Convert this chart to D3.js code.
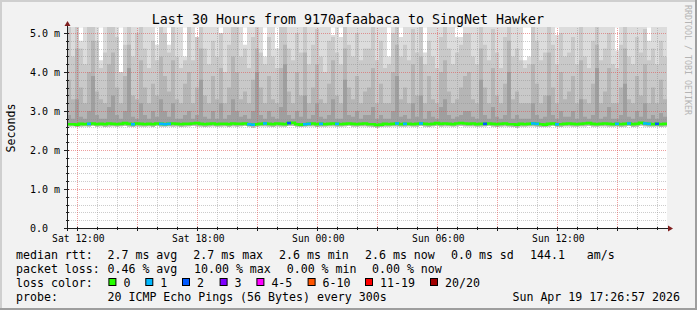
<!DOCTYPE html>
<html>
<head>
<meta charset="utf-8">
<script src="https://cdn.jsdelivr.net/npm/d3@7"></script>
<style>
  body { margin: 0; background: #f2f2f2; }
  svg { display: block; }
  text { font-family: "DejaVu Sans Mono", monospace; fill: #000; }
</style>
</head>
<body>
<div id="chart-area"></div>
<script>
// Data: 150 columns of 12 minutes each (30 hours), values in ms
const smokeTop = [
  5.2,5.2,5.2,4.8,5.2,5.2,5.2,5.2,4.3,5.2,5.2,5.2,5.2,4.0,5.2,5.2,5.2,5.2,5.2,5.2,5.2,5.2,4.7,5.2,5.2,
  4.7,5.2,5.2,5.2,4.4,5.2,5.2,4.9,5.2,5.2,5.2,5.2,5.2,4.8,5.2,5.2,5.2,5.2,5.2,4.7,5.2,5.2,5.2,5.2,4.4,
  5.2,5.2,4.6,5.2,5.2,5.2,5.2,5.2,5.2,5.2,5.2,5.2,5.2,5.2,5.2,5.2,4.95,5.2,4.9,5.2,5.2,5.2,5.2,5.2,5.2,
  5.2,5.2,5.2,5.2,5.2,4.4,5.2,5.2,4.9,5.2,5.2,5.2,5.2,5.2,4.5,5.2,5.2,5.2,5.2,5.2,5.2,5.2,4.9,4.9,5.2,
  5.2,5.2,5.2,5.2,5.2,5.2,5.2,5.2,5.2,5.2,5.2,5.2,5.2,5.2,4.3,4.4,5.2,5.2,5.2,5.2,5.2,5.2,4.95,5.2,5.2,
  5.2,5.2,5.2,5.2,5.2,5.2,5.2,5.2,5.2,5.2,5.2,5.2,4.55,5.2,5.2,5.2,5.2,5.2,5.2,5.2,4.8,5.2,5.2,5.2,5.2
];
const smokeHigh = [
  5.2,4.4,5.2,4.6,4.2,5.2,5.2,4.8,4.1,4.5,5.2,5.2,4.9,4.0,4.7,5.2,4.4,5.0,5.2,4.6,4.1,4.8,4.3,5.2,5.0,
  4.5,5.2,4.4,4.1,4.3,5.2,4.3,4.9,5.2,4.6,4.2,4.8,4.4,5.0,4.0,4.7,5.2,5.2,4.4,4.6,4.1,4.9,5.2,4.5,4.2,
  4.9,4.4,4.1,5.2,5.2,4.6,4.3,5.0,4.5,5.2,4.2,4.7,5.1,4.4,4.0,4.8,4.9,4.5,4.2,5.2,4.7,4.4,5.0,4.3,4.6,
  4.6,5.2,4.3,4.8,4.1,4.2,5.0,5.2,4.4,4.7,4.3,5.1,4.5,5.2,4.2,4.8,4.4,4.1,4.9,5.2,4.6,4.2,4.5,4.7,5.0,
  5.0,4.4,4.2,5.2,4.7,4.3,5.1,4.5,4.1,4.9,5.2,4.4,4.6,4.3,4.1,4.2,5.2,4.8,4.3,4.5,5.2,4.7,4.2,5.0,4.4,
  4.5,4.9,4.2,5.2,4.4,4.1,4.8,5.2,4.3,4.6,5.0,4.2,4.1,4.7,5.2,4.4,4.2,4.9,4.5,5.1,4.3,4.6,4.2,4.8,4.4
];
const smokeMid = [
  3.8,3.3,4.6,3.6,3.2,4.0,4.8,3.5,3.3,3.2,4.2,4.5,3.6,3.2,3.9,4.7,3.4,3.3,4.3,3.6,3.2,3.7,3.4,4.4,3.9,
  3.5,4.3,3.3,3.2,3.7,4.0,3.2,3.6,4.6,3.4,3.2,3.9,3.3,4.1,3.2,3.6,4.4,4.0,3.3,3.5,3.2,3.8,4.6,3.6,3.2,
  3.9,3.3,3.2,4.1,4.7,3.5,3.2,4.0,3.4,4.5,3.2,3.6,4.2,3.3,3.2,3.7,4.3,3.4,3.2,4.6,3.6,3.3,3.9,3.2,3.5,
  3.6,4.1,3.2,3.7,3.2,3.2,4.0,4.7,3.3,3.6,3.2,4.2,3.4,4.4,3.2,3.9,3.3,3.2,4.0,4.3,3.5,3.2,3.3,3.6,3.9,
  4.0,3.3,3.2,4.6,3.6,3.2,4.1,3.4,3.2,3.7,4.8,3.3,3.5,3.2,3.2,3.2,4.2,3.7,3.2,3.4,4.5,3.6,3.2,4.0,3.3,
  3.5,3.9,3.2,4.3,3.3,3.2,3.7,4.7,3.2,3.5,4.1,3.2,3.2,3.6,4.6,3.3,3.2,3.9,3.4,4.2,3.2,3.6,3.2,3.8,3.3
];
const smokeLowMid = [
  2.9,2.8,3.3,2.85,2.8,3.0,3.9,2.9,2.8,2.8,3.1,3.4,2.9,2.8,3.0,4.1,2.85,2.8,3.2,2.9,2.8,3.0,2.85,3.3,3.0,
  2.85,3.2,2.8,2.8,2.9,3.0,2.8,2.9,3.8,2.85,2.8,3.0,2.8,3.2,2.8,2.9,3.3,3.0,2.85,2.9,2.8,3.0,4.0,2.9,2.8,
  3.0,2.85,2.8,3.1,4.2,2.9,2.8,3.0,2.85,3.4,2.8,2.9,3.2,2.85,2.8,2.9,3.3,2.8,2.8,3.8,2.9,2.85,3.0,2.8,2.9,
  2.9,3.1,2.8,2.9,2.8,2.8,3.0,3.9,2.85,2.9,2.8,3.2,2.85,3.4,2.8,3.0,2.85,2.8,3.1,3.3,2.9,2.8,2.85,2.9,3.0,
  3.0,2.85,2.8,3.8,2.9,2.8,3.1,2.85,2.8,2.9,4.0,2.8,2.9,2.8,2.8,2.8,3.2,2.9,2.8,2.85,3.4,2.9,2.8,3.0,2.85,
  2.85,3.0,2.8,3.3,2.85,2.8,2.9,4.1,2.8,2.85,3.1,2.8,2.8,2.9,3.7,2.85,2.8,3.0,2.85,3.2,2.8,2.9,2.8,2.95,2.85
];
const smokeLow = [
  2.60,2.61,2.59,2.60,2.61,2.60,2.62,2.60,2.61,2.59,2.60,2.61,2.60,2.61,2.62,2.60,2.59,2.61,2.60,2.60,2.61,2.59,2.62,2.60,2.60,
  2.61,2.60,2.61,2.59,2.60,2.61,2.62,2.61,2.60,2.59,2.60,2.61,2.60,2.60,2.61,2.59,2.61,2.60,2.61,2.62,2.60,2.58,2.60,2.61,2.61,
  2.60,2.59,2.61,2.60,2.60,2.62,2.62,2.60,2.59,2.60,2.61,2.61,2.59,2.60,2.60,2.61,2.61,2.60,2.60,2.61,2.62,2.60,2.60,2.61,2.61,
  2.60,2.59,2.58,2.59,2.60,2.60,2.61,2.61,2.60,2.60,2.61,2.60,2.60,2.62,2.60,2.59,2.61,2.62,2.60,2.61,2.61,2.60,2.61,2.62,2.61,
  2.61,2.61,2.60,2.60,2.61,2.62,2.60,2.59,2.60,2.61,2.60,2.59,2.58,2.60,2.60,2.61,2.61,2.60,2.59,2.59,2.60,2.62,2.60,2.59,2.61,
  2.61,2.60,2.60,2.61,2.61,2.62,2.60,2.60,2.61,2.61,2.60,2.60,2.61,2.59,2.60,2.62,2.59,2.60,2.63,2.61,2.60,2.60,2.61,2.59,2.60
];
const medianRtt = [
  2.66,2.66,2.65,2.67,2.66,2.67,2.68,2.66,2.67,2.66,2.68,2.67,2.66,2.67,2.69,2.67,2.66,2.68,2.67,2.66,2.67,2.66,2.68,2.67,2.66,
  2.67,2.68,2.67,2.66,2.67,2.67,2.68,2.69,2.67,2.66,2.67,2.68,2.66,2.67,2.67,2.66,2.68,2.67,2.67,2.68,2.66,2.65,2.66,2.67,2.68,
  2.67,2.66,2.68,2.67,2.66,2.69,2.70,2.66,2.65,2.66,2.67,2.68,2.66,2.67,2.66,2.67,2.68,2.67,2.66,2.67,2.68,2.67,2.66,2.67,2.68,
  2.66,2.66,2.64,2.65,2.67,2.66,2.67,2.68,2.66,2.67,2.67,2.66,2.67,2.68,2.67,2.66,2.67,2.69,2.67,2.68,2.67,2.66,2.68,2.69,2.68,
  2.67,2.68,2.66,2.67,2.67,2.68,2.67,2.66,2.67,2.68,2.66,2.66,2.65,2.67,2.66,2.67,2.68,2.67,2.66,2.65,2.67,2.68,2.66,2.66,2.67,
  2.68,2.67,2.66,2.67,2.68,2.69,2.67,2.66,2.67,2.68,2.67,2.66,2.67,2.66,2.67,2.68,2.66,2.67,2.70,2.68,2.67,2.66,2.67,2.66,2.67
];
// lost pings (of 20) per column
const lossCount = [
  0,0,0,0,0,1,0,0,0,0,0,0,0,0,0,0,1,0,0,0,0,0,0,1,1,
  1,0,0,0,0,0,0,0,0,0,0,0,0,0,0,0,0,0,0,0,1,1,0,0,1,
  0,0,0,0,0,2,0,0,0,1,1,0,0,1,0,0,0,1,0,0,0,0,0,0,0,
  0,0,0,0,0,0,0,1,0,1,0,0,0,1,0,0,0,0,0,0,0,0,0,0,0,
  0,0,0,0,2,0,0,0,0,0,0,0,0,0,0,0,1,1,0,0,0,0,1,0,0,
  0,0,0,0,0,0,0,0,0,0,0,0,1,0,0,1,0,0,0,1,1,0,2,0,0
];

// Legend
const lossLabels = ["0", "1", "2", "3", "4-5", "6-10", "11-19", "20/20"];
const lossColors = ["#26ff00", "#00b8ff", "#0059ff", "#7e00ff", "#ff00ff", "#ff5500", "#ff0000", "#a10000"];
const yTicks = [0, 1, 2, 3, 4, 5];
const yTickLabels = ["0.0", "1.0 m", "2.0 m", "3.0 m", "4.0 m", "5.0 m"];

// Dimensions
const W = 697, H = 310;
const plot = { left: 67, right: 667, top: 28, bottom: 228 };
const startTime = new Date(2026, 3, 18, 11, 29);
const stepMin = 12;
const endTime = new Date(startTime.getTime() + smokeTop.length * stepMin * 60000);

const svg = d3.select("#chart-area")
  .append("svg")
    .attr("width", W)
    .attr("height", H);

// background + 3d frame
svg.append("rect").attr("width", W).attr("height", H).attr("fill", "#f2f2f2");
svg.append("path").attr("d", `M0,0H${W}V2H2V${H}H0Z`).attr("fill", "#cfcfcf");
svg.append("path").attr("d", `M${W},${H}H0V${H-2}H${W-2}V0H${W}Z`).attr("fill", "#9e9e9e");

const x = d3.scaleTime().domain([startTime, endTime]).range([plot.left, plot.right]);
const y = d3.scaleLinear().domain([0, 200 / 39]).range([plot.bottom, plot.top]);

svg.append("rect")
  .attr("x", plot.left).attr("y", plot.top)
  .attr("width", plot.right - plot.left).attr("height", plot.bottom - plot.top)
  .attr("fill", "#ffffff");

svg.append("clipPath").attr("id", "clip")
  .append("rect")
    .attr("x", plot.left).attr("y", plot.top - 1)
    .attr("width", plot.right - plot.left).attr("height", plot.bottom - plot.top + 1);

const colTime = i => new Date(startTime.getTime() + i * stepMin * 60000);
const idx = d3.range(smokeTop.length + 1);
const at = (arr, i) => arr[Math.min(i, arr.length - 1)];

const smoke = svg.append("g").attr("clip-path", "url(#clip)");
const bands = [
  { hi: smokeTop, lo: smokeLow, color: "#dcdcdc" },
  { hi: smokeHigh, lo: smokeLow, color: "#c9c9c9" },
  { hi: smokeMid, lo: smokeLow, color: "#b5b5b5" },
  { hi: smokeLowMid, lo: medianRtt, color: "#9f9f9f" }
];
bands.forEach(b => {
  smoke.append("path")
    .attr("fill", b.color)
    .attr("d", d3.area()
      .curve(d3.curveStepAfter)
      .x(i => x(colTime(i)))
      .y0(i => y(at(b.lo, i)))
      .y1(i => y(at(b.hi, i)))(idx));
});

// grid (drawn over the smoke like rrdtool does)
const grid = svg.append("g").attr("shape-rendering", "crispEdges");
const minorColor = "rgba(143,143,143,0.45)", majorColor = "rgba(222,79,79,0.55)";
const minorY = d3.range(0.2, 5.13, 0.2).filter(v => Math.abs(v - Math.round(v)) > 0.01);
grid.selectAll(".hmin").data(minorY).join("line")
  .attr("x1", plot.left).attr("x2", plot.right)
  .attr("y1", d => Math.round(y(d)) + 0.5).attr("y2", d => Math.round(y(d)) + 0.5)
  .attr("stroke", minorColor).attr("stroke-dasharray", "1,1");
const hours = d3.timeHour.range(startTime, endTime);
grid.selectAll(".vmin").data(hours.filter(h => h.getHours() % 3 !== 0)).join("line")
  .attr("x1", d => Math.round(x(d)) + 0.5).attr("x2", d => Math.round(x(d)) + 0.5)
  .attr("y1", plot.top).attr("y2", plot.bottom)
  .attr("stroke", minorColor).attr("stroke-dasharray", "1,1");
grid.selectAll(".hmaj").data(yTicks.slice(1)).join("line")
  .attr("x1", plot.left).attr("x2", plot.right)
  .attr("y1", d => Math.round(y(d)) + 0.5).attr("y2", d => Math.round(y(d)) + 0.5)
  .attr("stroke", majorColor).attr("stroke-dasharray", "1,1");
grid.selectAll(".vmaj").data(hours.filter(h => h.getHours() % 3 === 0)).join("line")
  .attr("x1", d => Math.round(x(d)) + 0.5).attr("x2", d => Math.round(x(d)) + 0.5)
  .attr("y1", plot.top).attr("y2", plot.bottom)
  .attr("stroke", majorColor).attr("stroke-dasharray", "1,1");

// median line, coloured by loss
const lossColor = n => n === 0 ? lossColors[0] : n === 1 ? lossColors[1] : n === 2 ? lossColors[2]
  : n === 3 ? lossColors[3] : n <= 5 ? lossColors[4] : n <= 10 ? lossColors[5] : n < 20 ? lossColors[6] : lossColors[7];
const medLine = d3.line().curve(d3.curveStepAfter).x(i => x(colTime(i))).y(i => y(at(medianRtt, i)));
svg.append("path").attr("d", medLine(idx)).attr("fill", "none")
  .attr("stroke", lossColors[0]).attr("stroke-width", 2.6);
svg.append("g").selectAll("path")
  .data(d3.range(lossCount.length).filter(i => lossCount[i] > 0))
  .join("path")
    .attr("d", i => medLine([i, i + 1]).split("L").slice(0, 2).join("L"))
    .attr("fill", "none")
    .attr("stroke", i => lossColor(lossCount[i]))
    .attr("stroke-width", 2.6);

// axes
const axis = svg.append("g").attr("shape-rendering", "crispEdges");
axis.append("line").attr("x1", plot.left - 3).attr("x2", plot.right + 2)
  .attr("y1", plot.bottom + 0.5).attr("y2", plot.bottom + 0.5).attr("stroke", "#1f1f1f");
axis.append("line").attr("x1", plot.left + 0.5).attr("x2", plot.left + 0.5)
  .attr("y1", plot.bottom + 3).attr("y2", plot.top - 3).attr("stroke", "#1f1f1f");
axis.selectAll(".yt").data(minorY.concat(yTicks.slice(1))).join("line")
  .attr("x1", d => Number.isInteger(d) ? plot.left - 3 : plot.left - 1).attr("x2", plot.left + 2)
  .attr("y1", d => Math.round(y(d)) + 0.5).attr("y2", d => Math.round(y(d)) + 0.5)
  .attr("stroke", "#1f1f1f");
axis.selectAll(".xt").data(hours).join("line")
  .attr("x1", d => Math.round(x(d)) + 0.5).attr("x2", d => Math.round(x(d)) + 0.5)
  .attr("y1", plot.bottom - 1).attr("y2", d => plot.bottom + (d.getHours() % 3 === 0 ? 3 : 2))
  .attr("stroke", "#1f1f1f");
svg.append("path").attr("d", `M${plot.left - 2.5},${plot.top - 2}L${plot.left + 3.5},${plot.top - 2}L${plot.left + 0.5},${plot.top - 7}Z`)
  .attr("fill", "#801f1f");
svg.append("path").attr("d", `M${plot.right + 1},${plot.bottom - 2.5}L${plot.right + 1},${plot.bottom + 3.5}L${plot.right + 6},${plot.bottom + 0.5}Z`)
  .attr("fill", "#801f1f");

// tick labels
svg.selectAll(".ylab").data(yTicks).join("text")
  .attr("x", 30).attr("y", d => y(d) + 3.6)
  .attr("font-size", "10px")
  .text((d, i) => yTickLabels[i]);
const fmt = d3.timeFormat("%a %H:%M");
svg.selectAll(".xlab").data(d3.timeHour.every(6).range(startTime, endTime)).join("text")
  .attr("x", d => x(d) + 1).attr("y", 241.5)
  .attr("text-anchor", "middle").attr("font-size", "9.7px")
  .text(d => fmt(d));

// title, unit label, watermark
svg.append("text").attr("x", 348).attr("y", 24)
  .attr("text-anchor", "middle").attr("font-size", "13.3px")
  .text("Last 30 Hours from 9170afaabaca to SingNet Hawker");
svg.append("text").attr("transform", "translate(15,128) rotate(-90)")
  .attr("text-anchor", "middle").attr("font-size", "11.6px")
  .text("Seconds");
svg.append("text").attr("transform", "translate(684.5,5) rotate(90)")
  .attr("font-size", "8.3px").style("fill", "#b4b4b4")
  .text("RRDTOOL / TOBI OETIKER");

// legend
const leg = svg.append("g").attr("font-size", "11.6px");
const put = (xx, yy, s) => leg.append("text").attr("x", xx).attr("y", yy)
  .attr("xml:space", "preserve").text(s);
put(16, 259, "median rtt:");
[[107.5, "2.7 ms avg"], [193.3, "2.7 ms max"], [279, "2.6 ms min"], [365, "2.6 ms now"],
 [451, "0.0 ms sd"], [530, "144.1"], [586.7, "am/s"]].forEach(d => put(d[0], 259, d[1]));
put(16, 272.5, "packet loss:");
[[107.5, "0.46 % avg"], [194, "10.00 % max"], [286.7, "0.00 % min"], [372, "0.00 % now"]]
  .forEach(d => put(d[0], 272.5, d[1]));
put(16, 287, "loss color:");
const boxX = [108.4, 145.3, 182, 219.6, 256.4, 307.6, 365, 430];
lossLabels.forEach((l, i) => {
  leg.append("rect").attr("x", boxX[i] + 0.5).attr("y", 278.5).attr("width", 7).attr("height", 7)
    .attr("fill", lossColors[i]).attr("stroke", "#000");
  put(boxX[i] + 15, 287, l);
});
put(16, 301, "probe:");
put(107.5, 301, "20 ICMP Echo Pings (56 Bytes) every 300s");
leg.append("text").attr("x", 680).attr("y", 301).attr("text-anchor", "end")
  .text("Sun Apr 19 17:26:57 2026");
</script>
</body>
</html>
